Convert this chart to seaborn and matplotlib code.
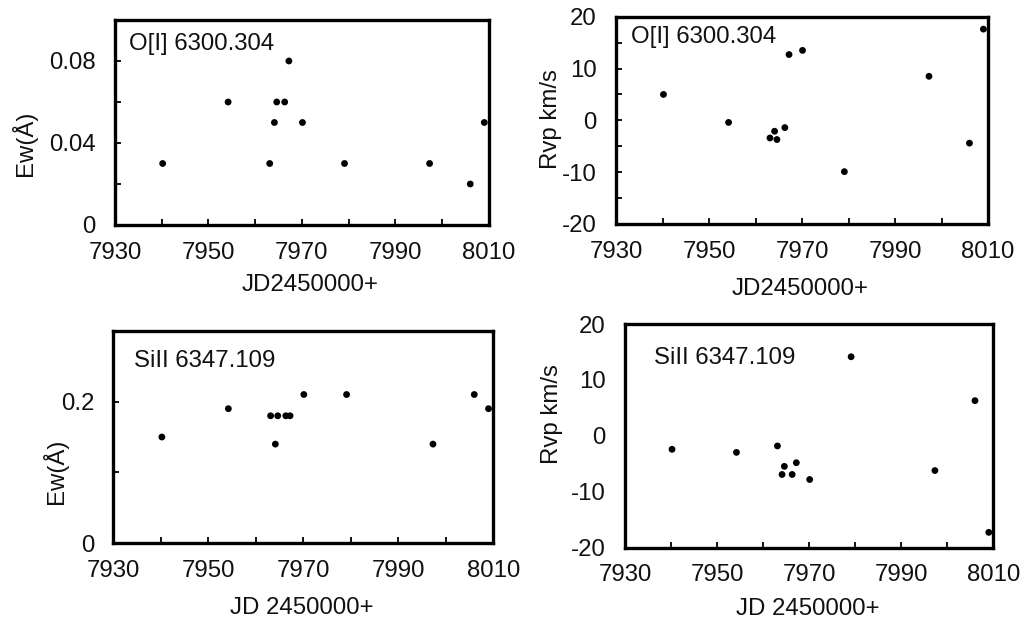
import matplotlib
matplotlib.use("Agg")
import matplotlib.pyplot as plt
import seaborn as sns
import pandas as pd

sns.set_theme(style="white")
plt.rcParams['font.family'] = ['Liberation Sans', 'DejaVu Sans']
plt.rcParams['axes.unicode_minus'] = False

# Data
jd = [7940.2, 7954.2, 7963.1, 7964.1, 7964.6, 7966.3, 7967.2, 7970.1,
      7979.1, 7997.3, 8006.0, 8009.0]
ew_oi = [0.03, 0.06, 0.03, 0.05, 0.06, 0.06, 0.08, 0.05, 0.03, 0.03, 0.02, 0.05]
rv_oi = [5.0, -0.4, -3.4, -2.1, -3.7, -1.4, 12.7, 13.5, -9.9, 8.5, -4.4, 17.6]
ew_si = [0.15, 0.19, 0.18, 0.14, 0.18, 0.18, 0.18, 0.21, 0.21, 0.14, 0.21, 0.19]
rv_si = [-2.4, -2.95, -1.8, -6.9, -5.45, -6.9, -4.8, -7.8, 14.15, -6.2, 6.3, -17.25]

x_ticks = list(range(7930, 8011, 10))
x_labels = ["7930", "", "7950", "", "7970", "", "7990", "", "8010"]

panels = [
    dict(rect=[0.1123, 0.6377, 0.3652, 0.3301], y=ew_oi, ylim=(0, 0.1),
         yticks=[0, 0.02, 0.04, 0.06, 0.08], ylabels=["0", "", "0.04", "", "0.08"],
         ylabel="Ew(Å)", ylc=(-0.209, 0.40), xlabel="JD2450000+", xlc=(0.521, -0.239),
         note="O[I] 6300.304", nxy=(0.037, 0.854)),
    dict(rect=[0.6016, 0.6393, 0.3633, 0.3338], y=rv_oi, ylim=(-20, 20),
         yticks=list(range(-20, 21, 5)), ylabels=["-20", "", "-10", "", "0", "", "10", "", "20"],
         ylabel="Rvp km/s", ylc=(-0.145, 0.504), xlabel="JD2450000+", xlc=(0.495, -0.26),
         note="O[I] 6300.304", nxy=(0.040, 0.872)),
    dict(rect=[0.1108, 0.1251, 0.3709, 0.3423], y=ew_si, ylim=(0, 0.3),
         yticks=[0, 0.1, 0.2], ylabels=["0", "", "0.2"],
         ylabel="Ew(Å)", ylc=(-0.12, 0.34), xlabel="JD 2450000+", xlc=(0.496, -0.253),
         note="SiII 6347.109", nxy=(0.054, 0.828)),
    dict(rect=[0.6104, 0.1180, 0.3597, 0.3602], y=rv_si, ylim=(-20, 20),
         yticks=[-20, -10, 0, 10, 20], ylabels=["-20", "-10", "0", "10", "20"],
         ylabel="Rvp km/s", ylc=(-0.168, 0.598), xlabel="JD 2450000+", xlc=(0.497, -0.225),
         note="SiII 6347.109", nxy=(0.079, 0.82), noyticks=True),
]

fig = plt.figure(figsize=(10.24, 6.21), dpi=100)
fs = 17.3
for p in panels:
    ax = fig.add_axes(p["rect"])
    df = pd.DataFrame({"jd": jd, "val": p["y"]})
    sns.scatterplot(data=df, x="jd", y="val", ax=ax, color="black", s=24,
                    edgecolor="none", clip_on=False, zorder=5)
    ax.set_xlim(7930, 8010)
    ax.set_ylim(*p["ylim"])
    ax.set_xticks(x_ticks)
    ax.set_xticklabels(x_labels)
    ax.set_yticks(p["yticks"])
    ax.set_yticklabels(p["ylabels"])
    for s in ax.spines.values():
        s.set_visible(True)
        s.set_color("black")
        s.set_linewidth(2.4)
    ax.tick_params(axis="x", direction="in", length=4.5, width=1.3, color="black",
                   labelsize=fs, pad=12, bottom=True, labelcolor="#111111")
    ylen = 0 if p.get("noyticks") else 4.5
    ax.tick_params(axis="y", direction="in", length=ylen, width=1.3, color="black",
                   labelsize=fs, pad=14, left=True, labelcolor="#111111")
    ax.set_xlabel(p["xlabel"], fontsize=fs, color="#111111", va="top")
    ax.xaxis.set_label_coords(*p["xlc"])
    ax.set_ylabel(p["ylabel"], fontsize=fs, color="#111111")
    ax.yaxis.set_label_coords(*p["ylc"])
    ax.text(p["nxy"][0], p["nxy"][1], p["note"], transform=ax.transAxes,
            fontsize=fs, ha="left", va="baseline", color="#111111")
    ax.grid(False)

fig.savefig("out.png", dpi=100, facecolor="white")
